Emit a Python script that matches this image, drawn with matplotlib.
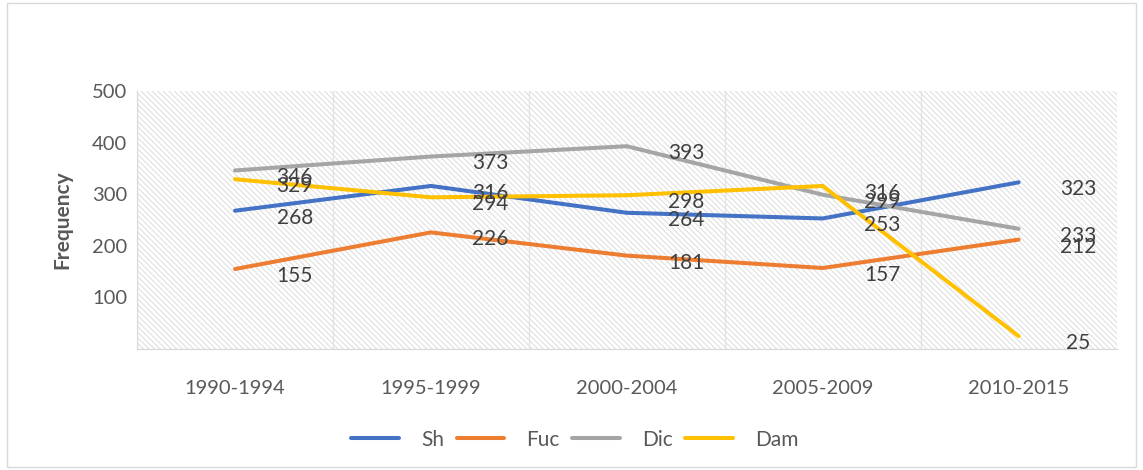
import matplotlib
matplotlib.use("Agg")
import matplotlib.pyplot as plt
from matplotlib.patches import Rectangle
import numpy as np

periods = ["1990-1994", "1995-1999", "2000-2004", "2005-2009", "2010-2015"]
sh = [268, 316, 264, 253, 323]
fuc = [155, 226, 181, 157, 212]
dic = [346, 373, 393, 299, 233]
dam = [329, 294, 298, 316, 25]

series = [
    ("Sh", sh, "#4472C4"),
    ("Fuc", fuc, "#ED7D31"),
    ("Dic", dic, "#A5A5A5"),
    ("Dam", dam, "#FFC000"),
]

plt.rcParams["font.family"] = ["Lato", "DejaVu Sans"]
plt.rcParams["hatch.linewidth"] = 0.7
plt.rcParams["hatch.color"] = "#dcdcdc"

fig = plt.figure(figsize=(11.43, 4.70), dpi=100)
fig.patches.append(Rectangle((0.006, 0.006), 0.988, 0.988, transform=fig.transFigure,
                             fill=False, edgecolor="#d9d9d9", linewidth=1))
ax = fig.add_axes([0.1199, 0.2574, 0.857, 0.549])

x = np.arange(len(periods))
ax.add_patch(Rectangle((0, 0), 1, 1, transform=ax.transAxes, facecolor="white",
                       edgecolor="#dcdcdc", hatch="\\\\\\\\\\\\", linewidth=0, zorder=0))

for name, values, color in series:
    ax.plot(x, values, color=color, linewidth=2.9, label=name, zorder=3,
            solid_capstyle="round", solid_joinstyle="miter")

# data labels sit right of and slightly below each point, like Excel's "right" position
for name, values, color in series:
    for xi, v in zip(x, values):
        ax.annotate(str(v), (xi, v), xytext=(43, -5), textcoords="offset points",
                    ha="center", va="center", fontsize=15, color="#404040", zorder=5)

ax.set_xlim(-0.5, len(periods) - 0.5)
ax.set_ylim(0, 500)
ax.set_xticks(x)
ax.set_xticklabels(periods)
ax.set_xticks(np.arange(-0.5, len(periods), 0.5), minor=True)
ax.set_yticks([100, 200, 300, 400, 500])
ax.set_yticks([0, 100, 200, 300, 400, 500], minor=True)
ax.tick_params(axis="both", which="both", length=0, labelsize=14.5, labelcolor="#595959")
ax.tick_params(axis="x", pad=22)
ax.tick_params(axis="y", pad=7)
ax.grid(True, which="minor", color="#e3e3e3", linewidth=1, zorder=1)
ax.set_axisbelow(True)
for side, spine in ax.spines.items():
    spine.set_color("#d9d9d9")
    spine.set_visible(side in ("bottom", "left"))

ax.set_ylabel("Frequency", fontsize=15, fontweight="bold", color="#595959", labelpad=14)

ax.legend(loc="upper center", bbox_to_anchor=(0.447, -0.24), ncol=4, frameon=False,
          fontsize=15, handlelength=2.3, handletextpad=1.05, columnspacing=0.6,
          labelcolor="#595959")

fig.savefig("out.png", dpi=100)
